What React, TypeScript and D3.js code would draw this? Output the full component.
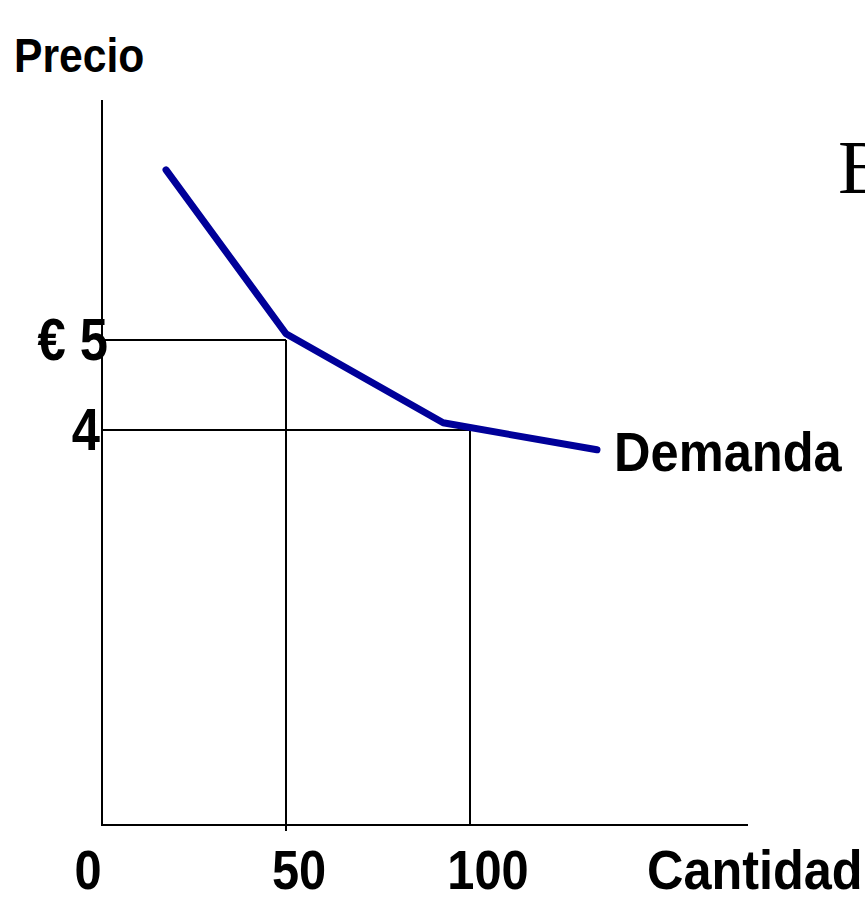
import React from "react";
import * as d3 from "d3";

const quantities = [17.4, 50, 92.7, 134.5];
const prices = [6.89, 5.07, 4.08, 3.78];
const refPrices = [5, 4];
const refPriceLabels = ["€ 5", "4"];
const refQuantities = [50, 100];
const xTickValues = [0, 50, 100];
const xTickLabels = ["0", "50", "100"];
const xAxisTitle = "Cantidad";
const yAxisTitle = "Precio";
const curveLabel = "Demanda";
const sideLetter = "B";

const W = 865;
const H = 899;
const FONT = "'Liberation Sans', Arial, sans-serif";

export default function App() {
  const x = d3.scaleLinear().domain([0, 100]).range([102, 470]);
  const y = d3.scaleLinear().domain([4, 5]).range([430, 340]);
  const xMax = x.invert(748);
  const yTop = y.invert(100);
  const yBottom = y.invert(825);

  const line = d3
    .line<number>()
    .x((_, i) => x(quantities[i]))
    .y((_, i) => y(prices[i]));

  const cond = (tx: number, ty: number, sx = 0.87) => `translate(${tx},${ty}) scale(${sx},1)`;
  const yLabelShift = [6, -2];

  return (
    <svg
      width={W}
      height={H}
      style={{ position: "absolute", left: 0, top: 0, background: "#fff" }}
    >
      {/* axes */}
      <line x1={x(0)} x2={x(0)} y1={y(yTop)} y2={y(yBottom)} stroke="#000" strokeWidth={2} />
      <line x1={x(0) - 1} x2={x(xMax)} y1={y(yBottom)} y2={y(yBottom)} stroke="#000" strokeWidth={2} />

      {/* reference lines */}
      {refPrices.map((p, i) => (
        <line key={"h" + i} x1={x(0)} x2={x(refQuantities[i])} y1={y(p)} y2={y(p)} stroke="#000" strokeWidth={2} />
      ))}
      {refQuantities.map((q, i) => (
        <line
          key={"v" + i}
          x1={x(q)}
          x2={x(q)}
          y1={y(refPrices[i])}
          y2={y(yBottom) + (i === 0 ? 6 : 0)}
          stroke="#000"
          strokeWidth={2}
        />
      ))}

      {/* demand curve */}
      <path
        d={line(quantities) || ""}
        fill="none"
        stroke="#000099"
        strokeWidth={7}
        strokeLinecap="round"
        strokeLinejoin="round"
      />

      {/* y labels */}
      {refPrices.map((p, i) => (
        <text
          key={"yl" + i}
          transform={cond(x(0) + yLabelShift[i], y(p) + 20, 0.86)}
          textAnchor="end"
          fontFamily={FONT}
          fontWeight="bold"
          fontSize={59}
          fill="#000"
        >
          {refPriceLabels[i]}
        </text>
      ))}

      {/* x tick labels */}
      {xTickValues.map((v, i) => (
        <text
          key={"xl" + i}
          transform={cond(x(v) + (i === 0 ? -14 : i === 1 ? 13 : 18), 889, 0.87)}
          textAnchor="middle"
          fontFamily={FONT}
          fontWeight="bold"
          fontSize={56}
          fill="#000"
        >
          {xTickLabels[i]}
        </text>
      ))}

      <text transform={cond(647, 889, 0.9)} fontFamily={FONT} fontWeight="bold" fontSize={56} fill="#000">
        {xAxisTitle}
      </text>
      <text transform={cond(14, 72, 0.87)} fontFamily={FONT} fontWeight="bold" fontSize={49} fill="#000">
        {yAxisTitle}
      </text>
      <text transform={cond(614, 471, 0.92)} fontFamily={FONT} fontWeight="bold" fontSize={55} fill="#000">
        {curveLabel}
      </text>
      <text x={838} y={193} fontFamily="'Liberation Serif', 'Times New Roman', serif" fontSize={77} fill="#000">
        {sideLetter}
      </text>
    </svg>
  );
}
